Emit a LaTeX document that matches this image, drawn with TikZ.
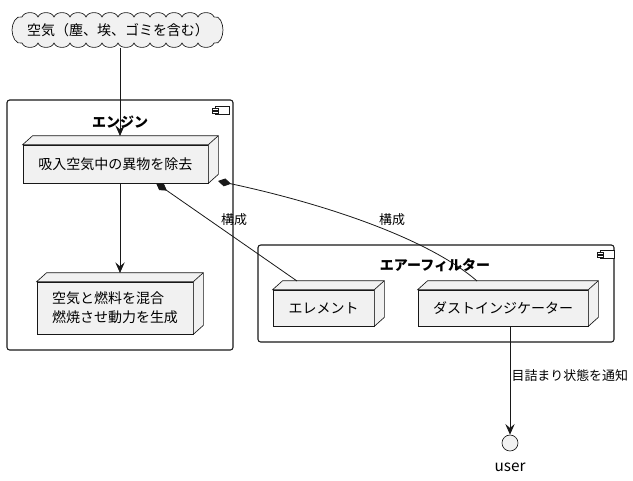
\documentclass[tikz,border=0pt]{standalone}
\usepackage{fontspec}
\setmainfont{Noto Sans CJK JP}
\usetikzlibrary{arrows.meta}

\definecolor{boxfill}{HTML}{F1F1F1}
\definecolor{boxline}{HTML}{181818}

% depth of a node box
\newcommand{\boxdepth}[1]{%
  \filldraw[nodebox] (#1.north west) -- ++(10,-9) -- ([shift={(10,-9)}]#1.north east)
    -- ([shift={(10,-9)}]#1.south east) -- (#1.south east) -- (#1.north east) -- cycle;
  \draw[nodebox] (#1.north east) -- ++(10,-9);
}
% component icon
\newcommand{\compicon}[2]{%
  \draw[boxline,line width=0.5pt,fill=white] (#1,#2) rectangle +(14,8);
  \draw[boxline,line width=0.5pt,fill=white] (#1-3,#2+2) rectangle +(6,2);
  \draw[boxline,line width=0.5pt,fill=white] (#1-3,#2+5) rectangle +(6,2);
}

\begin{document}
\begin{tikzpicture}[x=0.75pt,y=-0.75pt,font=\fontsize{10.5}{14}\selectfont,
  nodebox/.style={draw=boxline,fill=boxfill,line width=0.5pt},
  frame/.style={draw=boxline,line width=0.8pt,rounded corners=2pt},
  link/.style={draw=boxline,line width=0.6pt}]
\tikzstyle{arrowline}=[link,-{Stealth[length=8pt,width=7pt,inset=3pt]}]
\tikzstyle{partof}=[link,{Diamond[length=10pt,width=6pt,fill=boxline]}-]
\tikzstyle{title}=[font=\fontsize{10.5}{14}\selectfont\bfseries]
\tikzstyle{linklabel}=[font=\fontsize{9.7}{12}\selectfont]

\useasboundingbox (0,0) rectangle (633,480);

% air
\filldraw[nodebox] (22,17) foreach \x in {38,54,...,214} { to[out=70,in=110] (\x,17) }
  to[out=20,in=90] (223,30) to[out=-90,in=-20] (214,43)
  foreach \x in {198,182,...,22} { to[out=-110,in=-70] (\x,43) }
  to[out=200,in=-90] (12,30) to[out=90,in=160] cycle;
\node[minimum height=26pt,inner sep=0pt] (air) at (118,30) {空気（塵、埃、ゴミを含む）};

% engine
\draw[frame] (7,100) rectangle (233,350);
\compicon{215}{106}
\node[title] (engine) at (120,122) {エンジン};

\node[nodebox,minimum width=138.75pt,minimum height=28.5pt,inner sep=0pt] (remove) at (115.5,164)
  {吸入空気中の異物を除去};
\boxdepth{remove}
\node[nodebox,minimum width=117pt,minimum height=39pt,inner sep=0pt,align=left] (burn) at (115,308)
  {空気と燃料を混合\\燃焼させ動力を生成};
\boxdepth{burn}

% air filter
\draw[frame] (258,245) rectangle (614,342);
\compicon{600}{250}
\node[title] (filter) at (435,265) {エアーフィルター};

\node[nodebox,minimum width=75.75pt,minimum height=27pt,inner sep=0pt] (element) at (323.5,308)
  {エレメント};
\boxdepth{element}
\node[nodebox,minimum width=127.5pt,minimum height=27pt,inner sep=0pt] (indicator) at (503,308)
  {ダストインジケーター};
\boxdepth{indicator}

% user
\node[circle,draw=boxline,fill=boxfill,line width=0.5pt,minimum size=12pt,inner sep=0pt] (user) at (510,443) {};
\node[font=\fontsize{11.5}{14}\selectfont] (username) at (510,467) {user};

\coordinate (removetop) at (120,136);
\coordinate (burntop) at (120,273);
\coordinate (removebot) at (156,183);
\coordinate (removeside) at (218,181);
\coordinate (elementtop) at (297,281);
\coordinate (indicatortop) at (477,281);
\coordinate (indicatorbot) at (510,326);

\draw[arrowline] (removetop |- air.south) -- (removetop);
\draw[arrowline] (removetop |- remove.south) -- (burntop);
\draw[partof] (removebot) -- (elementtop);
\draw[partof] (removeside) .. controls (330,205) and (430,240) .. (indicatortop);
\draw[arrowline] (indicatorbot) -- (user);

\node[linklabel] (label1) at (234,220) {構成};
\node[linklabel] (label2) at (392,220) {構成};
\node[linklabel,anchor=west,inner sep=1pt] (label3) at (510,376) {目詰まり状態を通知};
\end{tikzpicture}
\end{document}
